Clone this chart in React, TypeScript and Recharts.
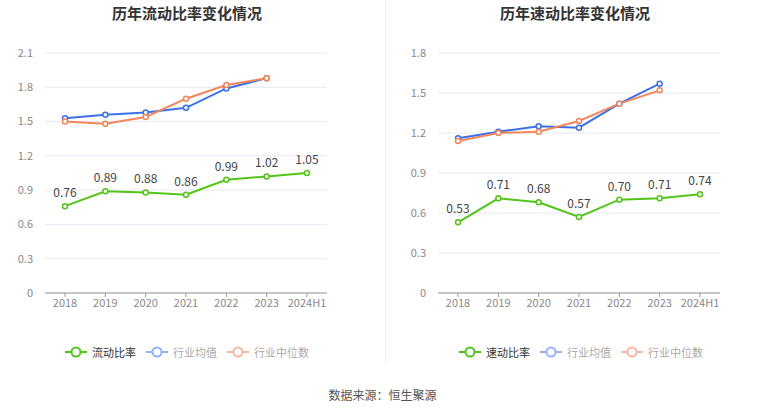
import React from "react"
import { LineChart, Line, XAxis, YAxis, CartesianGrid, LabelList } from "recharts"

const years = ["2018", "2019", "2020", "2021", "2022", "2023", "2024H1"]

// 流动比率
const currentRatio = [0.76, 0.89, 0.88, 0.86, 0.99, 1.02, 1.05]
const currentAvg = [1.53, 1.56, 1.58, 1.62, 1.79, 1.88, null]
const currentMedian = [1.5, 1.48, 1.54, 1.7, 1.82, 1.88, null]
const currentTicks = [0, 0.3, 0.6, 0.9, 1.2, 1.5, 1.8, 2.1]

// 速动比率
const quickRatio = [0.53, 0.71, 0.68, 0.57, 0.7, 0.71, 0.74]
const quickAvg = [1.16, 1.21, 1.25, 1.24, 1.42, 1.57, null]
const quickMedian = [1.14, 1.2, 1.21, 1.29, 1.42, 1.52, null]
const quickTicks = [0, 0.3, 0.6, 0.9, 1.2, 1.5, 1.8]

const GREEN = "#52c41a"
const BLUE = "#3b71e9"
const ORANGE = "#f5865c"

const font = "'Noto Sans CJK SC', 'Noto Sans', sans-serif"

function buildRows(main: number[], avg: (number | null)[], median: (number | null)[]) {
  return years.map((year, i) => ({ year, main: main[i], avg: avg[i], median: median[i] }))
}

function RatioChart({ rows, ticks, max }: { rows: any[]; ticks: number[]; max: number }) {
  const dot = (color: string) => ({ r: 2.5, stroke: color, strokeWidth: 1.5, fill: "#fff" })
  return (
    <LineChart width={382} height={330} data={rows} margin={{ top: 53, right: 55, left: 0, bottom: 7 }}>
      <CartesianGrid vertical={false} stroke="#e6e9f2" />
      <XAxis
        dataKey="year"
        height={30}
        padding={{ left: 20, right: 20 }}
        tick={{ fill: "#888", fontSize: 11 }}
        axisLine={{ stroke: "#999" }}
        tickLine={{ stroke: "#999" }}
        tickSize={4}
        interval={0}
      />
      <YAxis
        width={45}
        domain={[0, max]}
        ticks={ticks}
        tick={{ fill: "#888", fontSize: 11 }}
        axisLine={false}
        tickLine={false}
        tickMargin={6}
      />
      <Line type="linear" dataKey="avg" stroke={BLUE} strokeWidth={2} dot={dot(BLUE)} isAnimationActive={false} />
      <Line type="linear" dataKey="median" stroke={ORANGE} strokeWidth={2} dot={dot(ORANGE)} isAnimationActive={false} />
      <Line type="linear" dataKey="main" stroke={GREEN} strokeWidth={2} dot={dot(GREEN)} isAnimationActive={false}>
        <LabelList
          dataKey="main"
          position="top"
          offset={9}
          formatter={(v: number) => v.toFixed(2)}
          style={{ fill: "#444", fontSize: 12 }}
        />
      </Line>
    </LineChart>
  )
}

function LegendIcon({ color }: { color: string }) {
  return (
    <svg width={22} height={12} style={{ display: "block" }}>
      <line x1={0} y1={6} x2={22} y2={6} stroke={color} strokeWidth={2} />
      <circle cx={11} cy={6} r={4.5} stroke={color} strokeWidth={2} fill="#fff" />
    </svg>
  )
}

function Legend({ left, name }: { left: number; name: string }) {
  const items = [
    { label: name, color: GREEN, text: "#333" },
    { label: "行业均值", color: "#93b3f6", text: "#aaa" },
    { label: "行业中位数", color: "#f9b8a0", text: "#aaa" },
  ]
  return (
    <div style={{ position: "absolute", left, top: 344, display: "flex", alignItems: "center", fontSize: 11, fontFamily: font }}>
      {items.map((it) => (
        <div key={it.label} style={{ display: "flex", alignItems: "center", marginRight: 10 }}>
          <LegendIcon color={it.color} />
          <span style={{ color: it.text, marginLeft: 5, lineHeight: "16px" }}>{it.label}</span>
        </div>
      ))}
    </div>
  )
}

export default function App() {
  const titleStyle: React.CSSProperties = {
    position: "absolute",
    top: 2,
    width: 300,
    textAlign: "center",
    fontSize: 15,
    fontWeight: "bold",
    color: "#333",
    fontFamily: font,
  }
  return (
    <div style={{ position: "fixed", left: 0, top: 0, width: 765, height: 413, background: "#fff", fontFamily: font }}>
      <div style={{ ...titleStyle, left: 37 }}>历年流动比率变化情况</div>
      <div style={{ ...titleStyle, left: 425 }}>历年速动比率变化情况</div>
      <div style={{ position: "absolute", left: 385, top: 0, width: 1, height: 362, background: "#eee" }} />
      <div style={{ position: "absolute", left: 0, top: 0 }}>
        <RatioChart rows={buildRows(currentRatio, currentAvg, currentMedian)} ticks={currentTicks} max={2.1} />
      </div>
      <div style={{ position: "absolute", left: 393, top: 0 }}>
        <RatioChart rows={buildRows(quickRatio, quickAvg, quickMedian)} ticks={quickTicks} max={1.8} />
      </div>
      <Legend left={65} name="流动比率" />
      <Legend left={459} name="速动比率" />
      <div style={{ position: "absolute", left: 0, top: 386, width: 765, textAlign: "center", fontSize: 12, color: "#555", fontFamily: font }}>
        数据来源：恒生聚源
      </div>
    </div>
  )
}
